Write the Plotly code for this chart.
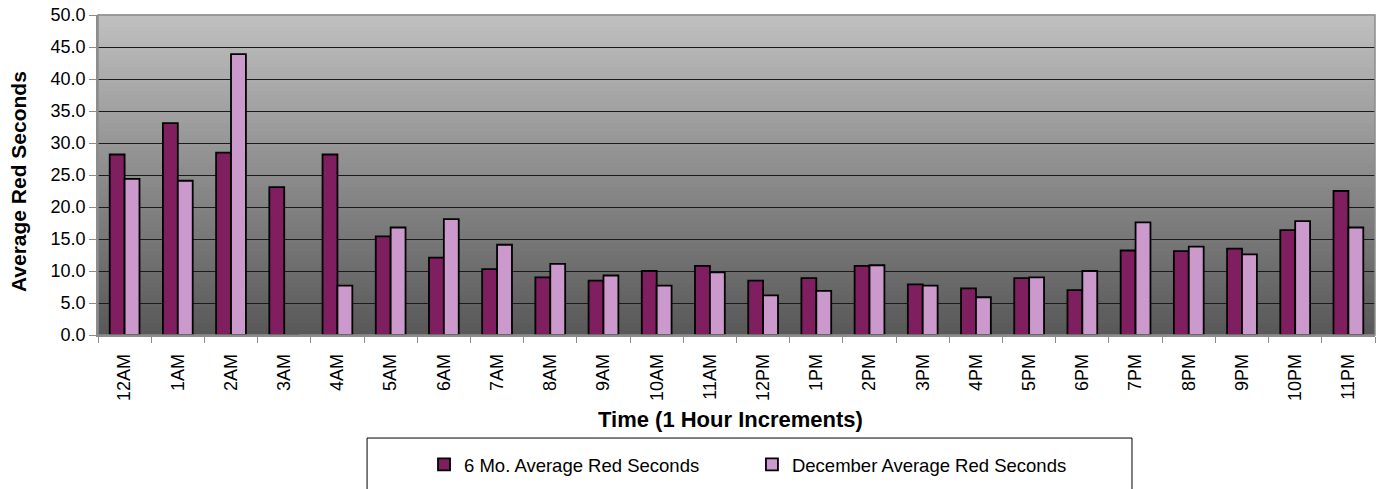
import plotly.graph_objects as go

# Hourly averages of red-light seconds
hours = ['12AM', '1AM', '2AM', '3AM', '4AM', '5AM', '6AM', '7AM', '8AM', '9AM',
         '10AM', '11AM', '12PM', '1PM', '2PM', '3PM', '4PM', '5PM', '6PM', '7PM',
         '8PM', '9PM', '10PM', '11PM']
six_month_avg = [28.2, 33.1, 28.5, 23.1, 28.2, 15.4, 12.1, 10.3, 9.0, 8.5,
                 10.0, 10.8, 8.5, 8.9, 10.8, 7.9, 7.3, 8.9, 7.0, 13.2,
                 13.1, 13.5, 16.4, 22.5]
december_avg = [24.4, 24.1, 43.9, 0.0, 7.7, 16.8, 18.1, 14.1, 11.1, 9.3,
                7.7, 9.8, 6.2, 6.9, 10.9, 7.7, 5.9, 9.0, 10.0, 17.6,
                13.8, 12.6, 17.8, 16.8]
y_ticks = [0, 5, 10, 15, 20, 25, 30, 35, 40, 45, 50]

FONT = 'Liberation Sans, Arial, sans-serif'
DARK = '#7F1F5F'
LIGHT = '#CC99CC'

fig = go.Figure()
fig.add_trace(go.Bar(
    x=hours, y=six_month_avg, name='6 Mo. Average Red Seconds',
    marker=dict(color=DARK, line=dict(color='black', width=1.8)),
    legend='legend',
))
fig.add_trace(go.Bar(
    x=hours, y=december_avg, name='December Average Red Seconds',
    marker=dict(color=LIGHT, line=dict(color='black', width=1.8)),
    legend='legend2',
))

# gradient background: light grey at top to dark grey at bottom
shapes = []
n = 80
top = (192, 192, 192)
bot = (88, 88, 88)
for i in range(n):
    t = (i + 0.5) / n
    c = tuple(round(bot[k] + (top[k] - bot[k]) * t) for k in range(3))
    shapes.append(dict(
        type='rect', xref='x domain', yref='y domain',
        x0=0, x1=1, y0=i / n, y1=(i + 1) / n + 0.002,
        fillcolor='rgb(%d,%d,%d)' % c, line=dict(width=0), layer='below',
    ))
# plot area border
shapes.append(dict(type='rect', xref='x domain', yref='y domain', x0=0, x1=1, y0=0, y1=1,
                   line=dict(color='#8C8C8C', width=1.5), layer='above'))
# legend box
shapes.append(dict(type='rect', xref='paper', yref='paper', x0=0.2107, x1=0.8097,
                   y0=-0.52, y1=-0.322, line=dict(color='black', width=1)))

legend_style = dict(
    orientation='h', y=-0.406, yanchor='middle', xanchor='left',
    font=dict(size=18.5, family=FONT), bgcolor='rgba(0,0,0,0)', itemwidth=30,
)

fig.update_layout(
    width=1377, height=489,
    margin=dict(l=98, r=2, t=15, b=154, autoexpand=False),
    paper_bgcolor='white',
    plot_bgcolor='rgba(0,0,0,0)',
    barmode='group', bargap=0.44, bargroupgap=0,
    font=dict(family=FONT, color='black'),
    shapes=shapes,
    showlegend=True,
    legend=dict(legend_style, x=0.2553),
    legend2=dict(legend_style, x=0.5121),
    annotations=[
        dict(text='<b>Time (1 Hour Increments)</b>', xref='paper', yref='paper',
             x=0.495, y=-0.2656, xanchor='center', yanchor='middle',
             showarrow=False, font=dict(size=22)),
        dict(text='<b>Average Red Seconds</b>', xref='paper', yref='paper',
             x=-0.0626, y=0.478, xanchor='center', yanchor='middle', textangle=-90,
             showarrow=False, font=dict(size=21)),
    ],
)
fig.update_xaxes(
    type='category', tickangle=-90, tickfont=dict(size=18), automargin=False,
    ticks='outside', tickson='boundaries', ticklen=6, tickcolor='#8C8C8C',
    ticklabelstandoff=10,
    showline=True, linecolor='#8C8C8C', linewidth=1.5,
    showgrid=False,
)
fig.update_yaxes(
    range=[0, 50], tickvals=y_ticks, tickformat='.1f', tickfont=dict(size=18),
    automargin=False, ticklabeloverflow='allow',
    ticks='outside', ticklen=7, tickcolor='#8C8C8C',
    showline=True, linecolor='#8C8C8C', linewidth=1.5,
    showgrid=True, gridcolor='#1A1A1A', gridwidth=1, zeroline=False,
)

# drop the default 8px page margin so the figure fills the window exactly
fig.write_html('out.html', config={'displayModeBar': False},
               post_script="document.body.style.margin='0';")
